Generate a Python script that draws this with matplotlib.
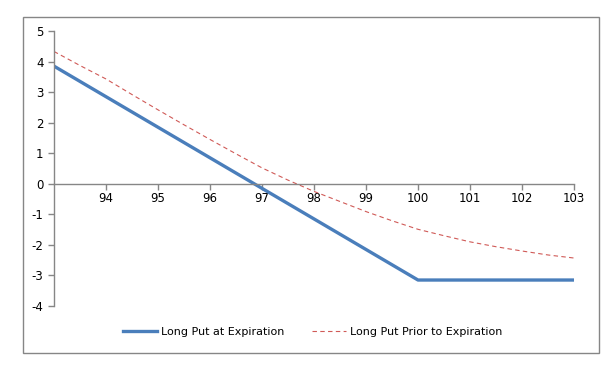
import matplotlib
matplotlib.use("Agg")
import matplotlib.pyplot as plt
from matplotlib.patches import Rectangle

# stock price at expiration
price = [93, 93.5, 94, 94.5, 95, 95.5, 96, 96.5, 97, 97.5, 98, 98.5, 99, 99.5,
         100, 100.5, 101, 101.5, 102, 102.5, 103]
at_expiration = [3.85, 3.35, 2.85, 2.35, 1.85, 1.35, 0.85, 0.35, -0.15, -0.65, -1.15,
                 -1.65, -2.15, -2.65, -3.15, -3.15, -3.15, -3.15, -3.15, -3.15, -3.15]
prior_to_expiration = [4.33, 3.87, 3.43, 2.92, 2.42, 1.93, 1.45, 0.98, 0.52, 0.12, -0.25,
                       -0.58, -0.91, -1.21, -1.49, -1.70, -1.90, -2.06, -2.20, -2.33, -2.43]
x_ticks = [94, 95, 96, 97, 98, 99, 100, 101, 102, 103]
y_ticks = [-4, -3, -2, -1, 0, 1, 2, 3, 4, 5]

plt.rcParams["axes.unicode_minus"] = False
grey = "#868686"
W, H = 610, 390

fig = plt.figure(figsize=(W / 100, H / 100), dpi=100)
fig.patches.append(Rectangle((23 / W, 1 - 353 / H), (599 - 23) / W, (353 - 17) / H,
                             transform=fig.transFigure, fill=False, edgecolor=grey, lw=1))
ax = fig.add_axes([54 / W, 1 - 306 / H, (574 - 54) / W, (306 - 31) / H])

ax.plot(price, at_expiration, color="#4A7EBB", lw=2.4, label="Long Put at Expiration")
ax.plot(price, prior_to_expiration, color="#D05A57", lw=0.8, ls=(0, (4, 3)),
        label="Long Put Prior to Expiration")

ax.set_xlim(93, 103)
ax.set_ylim(-4, 5)
ax.set_xticks(x_ticks)
ax.set_yticks(y_ticks)

for s in ["top", "right"]:
    ax.spines[s].set_visible(False)
ax.spines["bottom"].set_position(("data", 0))
for s in ["left", "bottom"]:
    ax.spines[s].set_color(grey)
    ax.spines[s].set_linewidth(1)
ax.tick_params(axis="both", direction="out", length=4, color=grey, width=1,
               labelsize=8.5, labelcolor="black")
ax.tick_params(axis="x", pad=2)

fig.legend(loc="center", bbox_to_anchor=(313 / W, 1 - 332 / H), ncol=2, frameon=False,
           fontsize=8, handlelength=3.0, columnspacing=2.5, handletextpad=0.4)

fig.savefig("out.png", dpi=100)
